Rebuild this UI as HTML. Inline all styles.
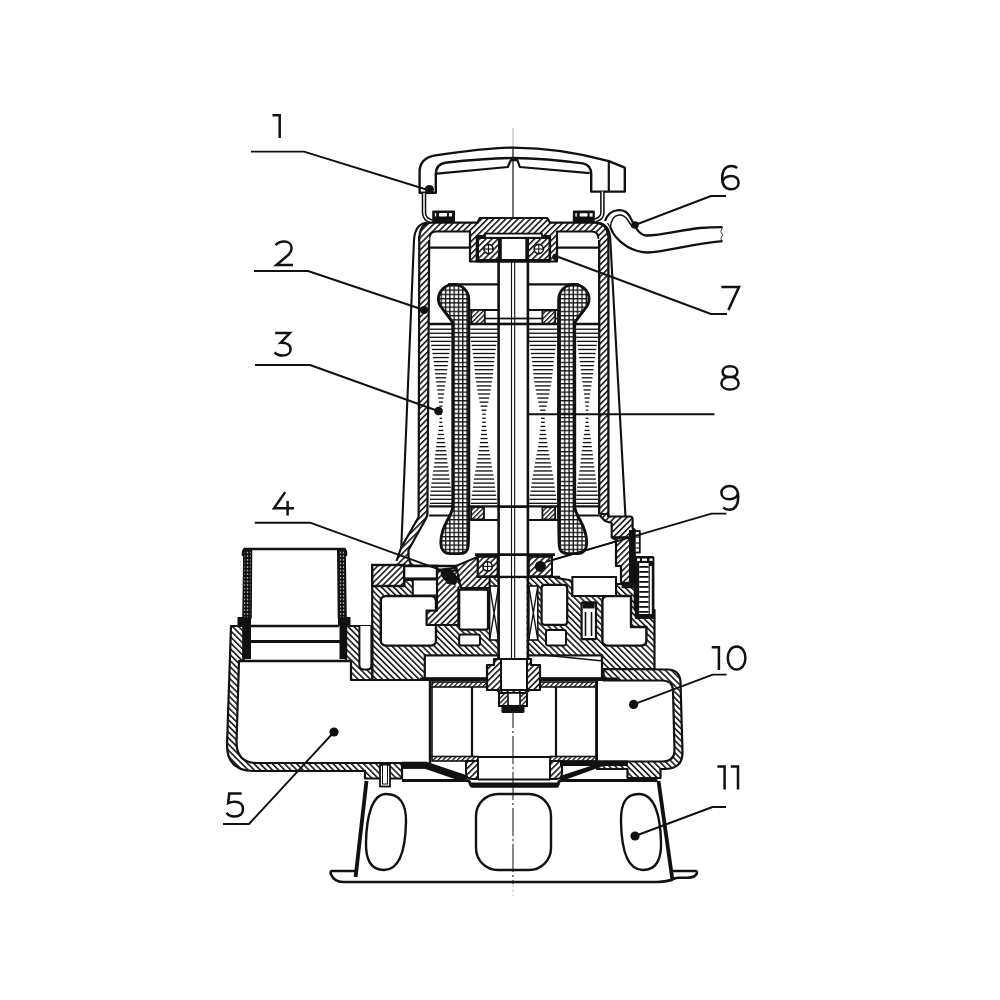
<!DOCTYPE html>
<html><head><meta charset="utf-8"><title>Pump</title>
<style>html,body{margin:0;padding:0;background:#fff;} svg{display:block;}</style></head>
<body><svg width="1000" height="1000" viewBox="0 0 1000 1000">
<rect width="1000" height="1000" fill="#fff"/>

<defs>
 <pattern id="hA" patternUnits="userSpaceOnUse" width="4.3" height="4.3" patternTransform="rotate(45)">
   <rect x="0" y="0" width="1.55" height="4.3" fill="#111"/>
 </pattern>
 <pattern id="hB" patternUnits="userSpaceOnUse" width="4.3" height="4.3" patternTransform="rotate(-45)">
   <rect x="0" y="0" width="1.55" height="4.3" fill="#111"/>
 </pattern>
 <pattern id="hAs" patternUnits="userSpaceOnUse" width="3.4" height="3.4" patternTransform="rotate(45)">
   <rect x="0" y="0" width="1.3" height="3.4" fill="#111"/>
 </pattern>
 <pattern id="xh" patternUnits="userSpaceOnUse" width="4.3" height="4.25" x="2.0" y="0.5">
   <rect x="0" y="0" width="4.3" height="1.3" fill="#111"/>
   <rect x="0" y="0" width="1.3" height="4.25" fill="#111"/>
 </pattern>
 <pattern id="dt" patternUnits="userSpaceOnUse" width="3" height="3.6">
   <rect width="3" height="3.6" fill="#111"/>
   <circle cx="1.5" cy="1.8" r="0.75" fill="#fff"/>
 </pattern>
</defs>

<line x1="513" y1="128" x2="513" y2="148" stroke="#999" stroke-width="0.8"/>
<line x1="513" y1="148" x2="513" y2="262" stroke="#111" stroke-width="1.2"/>
<line x1="513" y1="700" x2="513" y2="884" stroke="#111" stroke-width="1.0" stroke-dasharray="28,3,2,3"/>
<line x1="513" y1="884" x2="513" y2="896" stroke="#bbb" stroke-width="0.8" stroke-dasharray="3,2"/>
<path d="M419.6,192.8 L419.6,172 C419.6,162 425,157.5 434,155.6 C470,150.2 495,147.8 513,147.6 C545,147.8 580,153 608.8,161.2 L624.8,167.6 L624.8,191.6 L591.2,191.6 L591.2,174 C591.2,168 588.5,164.6 583,163.4 C560,160.2 536,158.2 513,158 C490,158.2 468,160.2 445,162.8 C439,164 435.8,168 435.8,174 L435.8,192.8 Z" fill="none" stroke="#111" stroke-width="2.4" stroke-linejoin="round" />
<path d="M437,173.6 L507.8,167 L510.8,160.2 L517.4,160.2 L519.8,167 L589.6,173.2" fill="none" stroke="#111" stroke-width="2.2" stroke-linejoin="round" />
<line x1="608.8" y1="161.2" x2="608.8" y2="191.6" stroke="#111" stroke-width="2.2"/>
<path d="M424,193 L424,212.5 Q424,219.5 432,221.5" fill="none" stroke="#111" stroke-width="4.6"/>
<path d="M424,193 L424,212.5 Q424,219.5 432,221.5" fill="none" stroke="#fff" stroke-width="1.5"/>
<path d="M602.4,191.6 L602.4,212.5 Q602.4,218.5 595,220.5" fill="none" stroke="#111" stroke-width="4.6"/>
<path d="M602.4,191.6 L602.4,212.5 Q602.4,218.5 595,220.5" fill="none" stroke="#fff" stroke-width="1.5"/>
<rect x="432.2" y="210.4" width="22.80000000000001" height="12.599999999999994" rx="1.2" fill="#111"/>
<rect x="434.8" y="213.0" width="1.4" height="3.4" fill="#fff"/>
<rect x="439.0" y="213.0" width="8" height="3.4" rx="1" fill="#fff"/>
<rect x="449.0" y="213.0" width="3" height="3.4" fill="#fff"/>
<rect x="572.8" y="210.6" width="22.0" height="12.400000000000006" rx="1.2" fill="#111"/>
<rect x="575.4" y="213.2" width="1.4" height="3.4" fill="#fff"/>
<rect x="579.5999999999999" y="213.2" width="8" height="3.4" rx="1" fill="#fff"/>
<rect x="589.5999999999999" y="213.2" width="3" height="3.4" fill="#fff"/>
<path d="M605,221 C607,215 612,210.5 618.5,210.2 C623,210 627,212 629.5,216 C631.5,219.5 633,223 635.5,227 C638,231.5 640.5,235 646,235.5 C660,236 680,230 700,228 C710,227.2 716,227.2 722.4,227.2" fill="none" stroke="#111" stroke-width="2.3" stroke-linejoin="round" />
<path d="M610.4,227.2 C611,221 613.5,216 618,215.2 C622,214.6 625.5,216.5 628,220.5 L632.5,227" fill="none" stroke="#111" stroke-width="1.5" stroke-linejoin="round" />
<path d="M610.4,227.2 C612,233 618,241 627,246.5 C634,250.5 640,252.5 648,252.5 C665,252 690,244 722.4,241.2" fill="none" stroke="#111" stroke-width="2.3" stroke-linejoin="round" />
<path d="M607.6,223 L613.2,232.8" fill="none" stroke="#111" stroke-width="1.3" stroke-linejoin="round" />
<path d="M722.4,227.2 L720.8,231.5 L722.6,235 L720.9,238.6 L722.4,241.2" fill="none" stroke="#111" stroke-width="0.8" stroke-linejoin="round" />
<path d="M419.3,240 Q419.3,222.7 432,222.7 L477.5,222.7 L479.8,218 L547.2,218 L550,222.7 L594,222.7 Q608,222.7 608,238 L598.4,238 Q598.4,231.5 591,231.5 L557,231.5 L557,261.5 L470,261.5 L470,231.5 L436,231.5 Q429.2,231.5 429.2,240 Z" fill="#fff"/><path d="M419.3,240 Q419.3,222.7 432,222.7 L477.5,222.7 L479.8,218 L547.2,218 L550,222.7 L594,222.7 Q608,222.7 608,238 L598.4,238 Q598.4,231.5 591,231.5 L557,231.5 L557,261.5 L470,261.5 L470,231.5 L436,231.5 Q429.2,231.5 429.2,240 Z" fill="url(#hA)" stroke="#111" stroke-width="2.2" stroke-linejoin="round" />
<path d="M476.8,236 L550,236 L550,261.5 L476.8,261.5 Z" fill="#fff" stroke="#111" stroke-width="2.2" stroke-linejoin="round" />
<rect x="485" y="233.6" width="57" height="4.2" rx="0" fill="#fff" stroke="#111" stroke-width="1.8"/>
<rect x="478" y="238" width="21" height="22" rx="0" fill="#fff"/><rect x="478" y="238" width="21" height="22" rx="0" fill="url(#hA)" stroke="#111" stroke-width="2.0"/>
<circle cx="488.5" cy="249" r="4.6" fill="#fff" stroke="#111" stroke-width="1.6"/>
<line x1="483.9" y1="249" x2="493.1" y2="249" stroke="#111" stroke-width="1.1"/>
<line x1="488.5" y1="244.4" x2="488.5" y2="253.6" stroke="#111" stroke-width="1.1"/>
<rect x="528" y="238" width="21.5" height="22" rx="0" fill="#fff"/><rect x="528" y="238" width="21.5" height="22" rx="0" fill="url(#hA)" stroke="#111" stroke-width="2.0"/>
<circle cx="538.75" cy="249" r="4.6" fill="#fff" stroke="#111" stroke-width="1.6"/>
<line x1="534.15" y1="249" x2="543.35" y2="249" stroke="#111" stroke-width="1.1"/>
<line x1="538.75" y1="244.4" x2="538.75" y2="253.6" stroke="#111" stroke-width="1.1"/>
<rect x="500.8" y="238" width="25.5" height="22" rx="0" fill="#fff" stroke="#111" stroke-width="2.0"/>
<path d="M401.2,549 L414,240 Q415,223.5 427,222.7" fill="none" stroke="#111" stroke-width="2.1" stroke-linejoin="round" />
<path d="M625.6,519 L610.2,238 Q609,224 598,222.7" fill="none" stroke="#111" stroke-width="2.1" stroke-linejoin="round" />
<path d="M419.3,236 L418.6,517 L401,548 L396.5,561 L396.5,565.5 L413,565.5 Q409,563 408.5,556 L408.5,550 L426,518.5 L427.4,515 L429.2,236 Z" fill="#fff"/>
<path d="M419.3,236 L418.6,517 L401,548 L396.5,561 L396.5,565.5 L413,565.5 Q409,563 408.5,556 L408.5,550 L426,518.5 L427.4,515 L429.2,236 Z" fill="url(#hA)"/>
<path d="M419.3,236 L418.6,517 L401,548 L396.5,561 M413,565.5 Q409,563 408.5,556 L408.5,550 L426,518.5 L427.4,515 L429.2,240" fill="none" stroke="#111" stroke-width="2.2" stroke-linejoin="round" />
<rect x="599.2" y="236" width="9.2" height="280" fill="#fff"/>
<rect x="599.2" y="236" width="9.2" height="280" fill="url(#hA)"/>
<path d="M599.2,240 L599.2,514 M608.4,236 L608.4,516" fill="none" stroke="#111" stroke-width="2.3" stroke-linejoin="round" />
<path d="M600.7,514 L600.7,516.5 L605,521 L611.7,523 L611.7,537.4 L616,540 L616,566 L621,566 L621,584 L634.8,584 L634.8,530 L632.6,528 L632.6,519 Q632.6,516.5 630,516.5 L608.2,516.5 L608.2,514 Z" fill="#fff"/><path d="M600.7,514 L600.7,516.5 L605,521 L611.7,523 L611.7,537.4 L616,540 L616,566 L621,566 L621,584 L634.8,584 L634.8,530 L632.6,528 L632.6,519 Q632.6,516.5 630,516.5 L608.2,516.5 L608.2,514 Z" fill="url(#hA)" stroke="#111" stroke-width="2.2" stroke-linejoin="round" />
<rect x="629" y="530" width="6" height="58" fill="#111"/>
<line x1="429.2" y1="247.6" x2="470" y2="247.6" stroke="#111" stroke-width="2.2"/>
<line x1="557" y1="247.6" x2="598.4" y2="247.6" stroke="#111" stroke-width="2.2"/>
<rect x="429.90" y="328.55" width="22.00" height="1.3" fill="#111"/>
<rect x="429.90" y="332.60" width="22.00" height="1.3" fill="#111"/>
<rect x="429.90" y="336.65" width="22.00" height="1.3" fill="#111"/>
<rect x="430.53" y="340.70" width="20.74" height="1.3" fill="#111"/>
<rect x="431.28" y="344.75" width="19.24" height="1.3" fill="#111"/>
<rect x="431.86" y="348.80" width="18.08" height="1.3" fill="#111"/>
<rect x="432.45" y="352.85" width="16.91" height="1.3" fill="#111"/>
<rect x="433.03" y="356.90" width="15.74" height="1.3" fill="#111"/>
<rect x="433.60" y="360.95" width="14.60" height="1.3" fill="#111"/>
<rect x="434.07" y="365.00" width="13.65" height="1.3" fill="#111"/>
<rect x="434.55" y="369.05" width="12.71" height="1.3" fill="#111"/>
<rect x="435.02" y="373.10" width="11.76" height="1.3" fill="#111"/>
<rect x="435.52" y="377.15" width="10.77" height="1.3" fill="#111"/>
<rect x="436.10" y="381.20" width="9.60" height="1.3" fill="#111"/>
<rect x="436.68" y="385.25" width="8.43" height="1.3" fill="#111"/>
<rect x="437.27" y="389.30" width="7.26" height="1.3" fill="#111"/>
<rect x="437.84" y="393.35" width="6.12" height="1.3" fill="#111"/>
<rect x="438.36" y="397.40" width="5.08" height="1.3" fill="#111"/>
<rect x="438.88" y="401.45" width="4.04" height="1.3" fill="#111"/>
<rect x="439.33" y="405.50" width="3.13" height="1.3" fill="#111"/>
<rect x="439.63" y="409.55" width="2.54" height="1.3" fill="#111"/>
<rect x="439.89" y="413.60" width="2.01" height="1.3" fill="#111"/>
<rect x="439.64" y="417.65" width="2.52" height="1.3" fill="#111"/>
<rect x="439.39" y="421.70" width="3.02" height="1.3" fill="#111"/>
<rect x="438.91" y="425.75" width="3.97" height="1.3" fill="#111"/>
<rect x="438.41" y="429.80" width="4.97" height="1.3" fill="#111"/>
<rect x="437.81" y="433.85" width="6.18" height="1.3" fill="#111"/>
<rect x="437.20" y="437.90" width="7.40" height="1.3" fill="#111"/>
<rect x="436.69" y="441.95" width="8.42" height="1.3" fill="#111"/>
<rect x="436.19" y="446.00" width="9.42" height="1.3" fill="#111"/>
<rect x="435.63" y="450.05" width="10.53" height="1.3" fill="#111"/>
<rect x="435.08" y="454.10" width="11.65" height="1.3" fill="#111"/>
<rect x="434.68" y="458.15" width="12.43" height="1.3" fill="#111"/>
<rect x="434.29" y="462.20" width="13.21" height="1.3" fill="#111"/>
<rect x="433.71" y="466.25" width="14.38" height="1.3" fill="#111"/>
<rect x="433.13" y="470.30" width="15.55" height="1.3" fill="#111"/>
<rect x="432.62" y="474.35" width="16.56" height="1.3" fill="#111"/>
<rect x="432.12" y="478.40" width="17.56" height="1.3" fill="#111"/>
<rect x="431.51" y="482.45" width="18.78" height="1.3" fill="#111"/>
<rect x="430.90" y="486.50" width="20.00" height="1.3" fill="#111"/>
<rect x="430.50" y="490.55" width="20.79" height="1.3" fill="#111"/>
<rect x="430.12" y="494.60" width="21.56" height="1.3" fill="#111"/>
<rect x="430.04" y="498.65" width="21.71" height="1.3" fill="#111"/>
<rect x="429.97" y="502.70" width="21.86" height="1.3" fill="#111"/>
<rect x="470.30" y="328.55" width="27.40" height="1.3" fill="#111"/>
<rect x="470.30" y="332.60" width="27.40" height="1.3" fill="#111"/>
<rect x="470.30" y="336.65" width="27.40" height="1.3" fill="#111"/>
<rect x="470.93" y="340.70" width="26.14" height="1.3" fill="#111"/>
<rect x="471.69" y="344.75" width="24.61" height="1.3" fill="#111"/>
<rect x="472.25" y="348.80" width="23.50" height="1.3" fill="#111"/>
<rect x="472.77" y="352.85" width="22.46" height="1.3" fill="#111"/>
<rect x="473.29" y="356.90" width="21.42" height="1.3" fill="#111"/>
<rect x="473.81" y="360.95" width="20.38" height="1.3" fill="#111"/>
<rect x="474.21" y="365.00" width="19.59" height="1.3" fill="#111"/>
<rect x="474.59" y="369.05" width="18.83" height="1.3" fill="#111"/>
<rect x="474.97" y="373.10" width="18.06" height="1.3" fill="#111"/>
<rect x="475.35" y="377.15" width="17.30" height="1.3" fill="#111"/>
<rect x="476.00" y="381.20" width="16.01" height="1.3" fill="#111"/>
<rect x="476.65" y="385.25" width="14.69" height="1.3" fill="#111"/>
<rect x="477.31" y="389.30" width="13.37" height="1.3" fill="#111"/>
<rect x="477.97" y="393.35" width="12.06" height="1.3" fill="#111"/>
<rect x="478.80" y="397.40" width="10.39" height="1.3" fill="#111"/>
<rect x="479.64" y="401.45" width="8.73" height="1.3" fill="#111"/>
<rect x="480.53" y="405.50" width="6.94" height="1.3" fill="#111"/>
<rect x="481.47" y="409.55" width="5.06" height="1.3" fill="#111"/>
<rect x="482.35" y="413.60" width="3.30" height="1.3" fill="#111"/>
<rect x="482.29" y="417.65" width="3.42" height="1.3" fill="#111"/>
<rect x="482.23" y="421.70" width="3.55" height="1.3" fill="#111"/>
<rect x="481.85" y="425.75" width="4.30" height="1.3" fill="#111"/>
<rect x="481.43" y="429.80" width="5.13" height="1.3" fill="#111"/>
<rect x="480.95" y="433.85" width="6.09" height="1.3" fill="#111"/>
<rect x="480.47" y="437.90" width="7.06" height="1.3" fill="#111"/>
<rect x="479.98" y="441.95" width="8.04" height="1.3" fill="#111"/>
<rect x="479.50" y="446.00" width="9.01" height="1.3" fill="#111"/>
<rect x="478.74" y="450.05" width="10.51" height="1.3" fill="#111"/>
<rect x="477.98" y="454.10" width="12.04" height="1.3" fill="#111"/>
<rect x="477.29" y="458.15" width="13.43" height="1.3" fill="#111"/>
<rect x="476.59" y="462.20" width="14.81" height="1.3" fill="#111"/>
<rect x="475.93" y="466.25" width="16.13" height="1.3" fill="#111"/>
<rect x="475.27" y="470.30" width="17.45" height="1.3" fill="#111"/>
<rect x="474.58" y="474.35" width="18.84" height="1.3" fill="#111"/>
<rect x="473.89" y="478.40" width="20.22" height="1.3" fill="#111"/>
<rect x="473.39" y="482.45" width="21.21" height="1.3" fill="#111"/>
<rect x="472.91" y="486.50" width="22.18" height="1.3" fill="#111"/>
<rect x="472.35" y="490.55" width="23.29" height="1.3" fill="#111"/>
<rect x="471.80" y="494.60" width="24.40" height="1.3" fill="#111"/>
<rect x="471.30" y="498.65" width="25.39" height="1.3" fill="#111"/>
<rect x="470.80" y="502.70" width="26.40" height="1.3" fill="#111"/>
<rect x="528.30" y="328.55" width="29.20" height="1.3" fill="#111"/>
<rect x="528.30" y="332.60" width="29.20" height="1.3" fill="#111"/>
<rect x="528.30" y="336.65" width="29.20" height="1.3" fill="#111"/>
<rect x="528.97" y="340.70" width="27.85" height="1.3" fill="#111"/>
<rect x="529.79" y="344.75" width="26.23" height="1.3" fill="#111"/>
<rect x="530.38" y="348.80" width="25.04" height="1.3" fill="#111"/>
<rect x="530.93" y="352.85" width="23.93" height="1.3" fill="#111"/>
<rect x="531.49" y="356.90" width="22.83" height="1.3" fill="#111"/>
<rect x="532.04" y="360.95" width="21.72" height="1.3" fill="#111"/>
<rect x="532.46" y="365.00" width="20.88" height="1.3" fill="#111"/>
<rect x="532.87" y="369.05" width="20.06" height="1.3" fill="#111"/>
<rect x="533.28" y="373.10" width="19.25" height="1.3" fill="#111"/>
<rect x="533.68" y="377.15" width="18.44" height="1.3" fill="#111"/>
<rect x="534.37" y="381.20" width="17.06" height="1.3" fill="#111"/>
<rect x="535.07" y="385.25" width="15.66" height="1.3" fill="#111"/>
<rect x="535.77" y="389.30" width="14.25" height="1.3" fill="#111"/>
<rect x="536.48" y="393.35" width="12.85" height="1.3" fill="#111"/>
<rect x="537.36" y="397.40" width="11.07" height="1.3" fill="#111"/>
<rect x="538.25" y="401.45" width="9.30" height="1.3" fill="#111"/>
<rect x="539.20" y="405.50" width="7.40" height="1.3" fill="#111"/>
<rect x="540.20" y="409.55" width="5.39" height="1.3" fill="#111"/>
<rect x="541.14" y="413.60" width="3.51" height="1.3" fill="#111"/>
<rect x="541.08" y="417.65" width="3.65" height="1.3" fill="#111"/>
<rect x="541.01" y="421.70" width="3.78" height="1.3" fill="#111"/>
<rect x="540.61" y="425.75" width="4.58" height="1.3" fill="#111"/>
<rect x="540.16" y="429.80" width="5.47" height="1.3" fill="#111"/>
<rect x="539.65" y="433.85" width="6.49" height="1.3" fill="#111"/>
<rect x="539.14" y="437.90" width="7.53" height="1.3" fill="#111"/>
<rect x="538.62" y="441.95" width="8.56" height="1.3" fill="#111"/>
<rect x="538.10" y="446.00" width="9.60" height="1.3" fill="#111"/>
<rect x="537.30" y="450.05" width="11.20" height="1.3" fill="#111"/>
<rect x="536.49" y="454.10" width="12.83" height="1.3" fill="#111"/>
<rect x="535.75" y="458.15" width="14.31" height="1.3" fill="#111"/>
<rect x="535.01" y="462.20" width="15.79" height="1.3" fill="#111"/>
<rect x="534.30" y="466.25" width="17.19" height="1.3" fill="#111"/>
<rect x="533.60" y="470.30" width="18.60" height="1.3" fill="#111"/>
<rect x="532.86" y="474.35" width="20.08" height="1.3" fill="#111"/>
<rect x="532.12" y="478.40" width="21.55" height="1.3" fill="#111"/>
<rect x="531.60" y="482.45" width="22.60" height="1.3" fill="#111"/>
<rect x="531.08" y="486.50" width="23.64" height="1.3" fill="#111"/>
<rect x="530.49" y="490.55" width="24.82" height="1.3" fill="#111"/>
<rect x="529.90" y="494.60" width="26.00" height="1.3" fill="#111"/>
<rect x="529.37" y="498.65" width="27.06" height="1.3" fill="#111"/>
<rect x="528.83" y="502.70" width="28.13" height="1.3" fill="#111"/>
<rect x="576.10" y="328.55" width="22.00" height="1.3" fill="#111"/>
<rect x="576.10" y="332.60" width="22.00" height="1.3" fill="#111"/>
<rect x="576.10" y="336.65" width="22.00" height="1.3" fill="#111"/>
<rect x="576.73" y="340.70" width="20.74" height="1.3" fill="#111"/>
<rect x="577.48" y="344.75" width="19.24" height="1.3" fill="#111"/>
<rect x="578.06" y="348.80" width="18.08" height="1.3" fill="#111"/>
<rect x="578.65" y="352.85" width="16.91" height="1.3" fill="#111"/>
<rect x="579.23" y="356.90" width="15.74" height="1.3" fill="#111"/>
<rect x="579.80" y="360.95" width="14.60" height="1.3" fill="#111"/>
<rect x="580.27" y="365.00" width="13.65" height="1.3" fill="#111"/>
<rect x="580.75" y="369.05" width="12.71" height="1.3" fill="#111"/>
<rect x="581.22" y="373.10" width="11.76" height="1.3" fill="#111"/>
<rect x="581.72" y="377.15" width="10.77" height="1.3" fill="#111"/>
<rect x="582.30" y="381.20" width="9.60" height="1.3" fill="#111"/>
<rect x="582.88" y="385.25" width="8.43" height="1.3" fill="#111"/>
<rect x="583.47" y="389.30" width="7.26" height="1.3" fill="#111"/>
<rect x="584.04" y="393.35" width="6.12" height="1.3" fill="#111"/>
<rect x="584.56" y="397.40" width="5.08" height="1.3" fill="#111"/>
<rect x="585.08" y="401.45" width="4.04" height="1.3" fill="#111"/>
<rect x="585.53" y="405.50" width="3.13" height="1.3" fill="#111"/>
<rect x="585.83" y="409.55" width="2.54" height="1.3" fill="#111"/>
<rect x="586.09" y="413.60" width="2.01" height="1.3" fill="#111"/>
<rect x="585.84" y="417.65" width="2.52" height="1.3" fill="#111"/>
<rect x="585.59" y="421.70" width="3.02" height="1.3" fill="#111"/>
<rect x="585.11" y="425.75" width="3.97" height="1.3" fill="#111"/>
<rect x="584.61" y="429.80" width="4.97" height="1.3" fill="#111"/>
<rect x="584.01" y="433.85" width="6.18" height="1.3" fill="#111"/>
<rect x="583.40" y="437.90" width="7.40" height="1.3" fill="#111"/>
<rect x="582.89" y="441.95" width="8.42" height="1.3" fill="#111"/>
<rect x="582.39" y="446.00" width="9.42" height="1.3" fill="#111"/>
<rect x="581.83" y="450.05" width="10.53" height="1.3" fill="#111"/>
<rect x="581.28" y="454.10" width="11.65" height="1.3" fill="#111"/>
<rect x="580.88" y="458.15" width="12.43" height="1.3" fill="#111"/>
<rect x="580.49" y="462.20" width="13.21" height="1.3" fill="#111"/>
<rect x="579.91" y="466.25" width="14.38" height="1.3" fill="#111"/>
<rect x="579.33" y="470.30" width="15.55" height="1.3" fill="#111"/>
<rect x="578.82" y="474.35" width="16.56" height="1.3" fill="#111"/>
<rect x="578.32" y="478.40" width="17.56" height="1.3" fill="#111"/>
<rect x="577.71" y="482.45" width="18.78" height="1.3" fill="#111"/>
<rect x="577.10" y="486.50" width="20.00" height="1.3" fill="#111"/>
<rect x="576.70" y="490.55" width="20.79" height="1.3" fill="#111"/>
<rect x="576.32" y="494.60" width="21.56" height="1.3" fill="#111"/>
<rect x="576.24" y="498.65" width="21.71" height="1.3" fill="#111"/>
<rect x="576.17" y="502.70" width="21.86" height="1.3" fill="#111"/>
<line x1="429.2" y1="324" x2="598.4" y2="324" stroke="#111" stroke-width="2.4"/>
<line x1="429.2" y1="506.4" x2="598.4" y2="506.4" stroke="#111" stroke-width="2.4"/>
<line x1="448" y1="284.4" x2="498.5" y2="284.4" stroke="#111" stroke-width="2.2"/>
<line x1="528" y1="284.4" x2="579" y2="284.4" stroke="#111" stroke-width="2.2"/>
<line x1="468.8" y1="310" x2="498.5" y2="310" stroke="#111" stroke-width="2.0"/>
<line x1="528" y1="310" x2="558.4" y2="310" stroke="#111" stroke-width="2.0"/>
<line x1="468.8" y1="318.5" x2="498.5" y2="318.5" stroke="#111" stroke-width="1.6"/>
<line x1="528" y1="318.5" x2="558.4" y2="318.5" stroke="#111" stroke-width="1.6"/>
<rect x="471.2" y="310" width="13.6" height="13.6" rx="0" fill="#fff"/><rect x="471.2" y="310" width="13.6" height="13.6" rx="0" fill="url(#hAs)" stroke="#111" stroke-width="1.8"/>
<rect x="542.4" y="310.6" width="12.8" height="13" rx="0" fill="#fff"/><rect x="542.4" y="310.6" width="12.8" height="13" rx="0" fill="url(#hAs)" stroke="#111" stroke-width="1.8"/>
<rect x="471.2" y="507.2" width="12.8" height="12.2" rx="0" fill="#fff"/><rect x="471.2" y="507.2" width="12.8" height="12.2" rx="0" fill="url(#hAs)" stroke="#111" stroke-width="1.8"/>
<rect x="542.4" y="507.2" width="12.8" height="12.2" rx="0" fill="#fff"/><rect x="542.4" y="507.2" width="12.8" height="12.2" rx="0" fill="url(#hAs)" stroke="#111" stroke-width="1.8"/>
<line x1="429.2" y1="515.5" x2="452" y2="515.5" stroke="#111" stroke-width="2.0"/>
<line x1="575" y1="515.5" x2="599.5" y2="515.5" stroke="#111" stroke-width="2.0"/>
<line x1="468.8" y1="520" x2="498.5" y2="520" stroke="#111" stroke-width="2.0"/>
<line x1="528" y1="520" x2="558.4" y2="520" stroke="#111" stroke-width="2.0"/>
<line x1="468.8" y1="310" x2="468.8" y2="521" stroke="#111" stroke-width="2.2"/>
<line x1="558.4" y1="310" x2="558.4" y2="521" stroke="#111" stroke-width="2.2"/>
<line x1="475" y1="554.6" x2="555" y2="554.6" stroke="#111" stroke-width="2.8"/>
<line x1="498.6" y1="260" x2="498.6" y2="692" stroke="#111" stroke-width="2.6"/>
<line x1="527.9" y1="260" x2="527.9" y2="692" stroke="#111" stroke-width="2.6"/>
<line x1="511.5" y1="262" x2="511.5" y2="692" stroke="#111" stroke-width="1.1"/>
<line x1="514.7" y1="262" x2="514.7" y2="692" stroke="#111" stroke-width="1.1"/>
<line x1="498.6" y1="318.5" x2="527.9" y2="318.5" stroke="#111" stroke-width="1.8"/>
<line x1="498.6" y1="323.8" x2="527.9" y2="323.8" stroke="#111" stroke-width="1.8"/>
<line x1="498.6" y1="507" x2="527.9" y2="507" stroke="#111" stroke-width="2.0"/>
<path d="M438.4,299.5 A15.2,15.1 0 0 1 468.8,299.5 L468.8,506 C468.8,520 468.6,540 468.2,546 C467.8,551 465,553.6 460,553.6 L450,553.6 C444,553.6 440.8,549 440.8,543 C440.8,535 443.5,527 447.5,520 C450.5,514.5 452.8,511 452.8,506 L452.8,322.8 C450,318 444,311 440.4,306 C439,303.5 438.4,301.5 438.4,299.5 Z" fill="#fff"/><path d="M438.4,299.5 A15.2,15.1 0 0 1 468.8,299.5 L468.8,506 C468.8,520 468.6,540 468.2,546 C467.8,551 465,553.6 460,553.6 L450,553.6 C444,553.6 440.8,549 440.8,543 C440.8,535 443.5,527 447.5,520 C450.5,514.5 452.8,511 452.8,506 L452.8,322.8 C450,318 444,311 440.4,306 C439,303.5 438.4,301.5 438.4,299.5 Z" fill="url(#xh)" stroke="#111" stroke-width="2.9" stroke-linejoin="round" />
<g transform="translate(1027.5,0) scale(-1,1)"><path d="M438.4,299.5 A15.2,15.1 0 0 1 468.8,299.5 L468.8,506 C468.8,520 468.6,540 468.2,546 C467.8,551 465,553.6 460,553.6 L450,553.6 C444,553.6 440.8,549 440.8,543 C440.8,535 443.5,527 447.5,520 C450.5,514.5 452.8,511 452.8,506 L452.8,322.8 C450,318 444,311 440.4,306 C439,303.5 438.4,301.5 438.4,299.5 Z" fill="#fff"/><path d="M438.4,299.5 A15.2,15.1 0 0 1 468.8,299.5 L468.8,506 C468.8,520 468.6,540 468.2,546 C467.8,551 465,553.6 460,553.6 L450,553.6 C444,553.6 440.8,549 440.8,543 C440.8,535 443.5,527 447.5,520 C450.5,514.5 452.8,511 452.8,506 L452.8,322.8 C450,318 444,311 440.4,306 C439,303.5 438.4,301.5 438.4,299.5 Z" fill="url(#xh)" stroke="#111" stroke-width="2.9" stroke-linejoin="round" /></g>
<rect x="477.6" y="556.8" width="20.0" height="19.6" rx="0" fill="#fff"/><rect x="477.6" y="556.8" width="20.0" height="19.6" rx="0" fill="url(#hA)" stroke="#111" stroke-width="2.0"/>
<circle cx="487.6" cy="566.4" r="4.6" fill="#fff" stroke="#111" stroke-width="1.6"/>
<line x1="483.0" y1="566.4" x2="492.20000000000005" y2="566.4" stroke="#111" stroke-width="1.1"/>
<line x1="487.6" y1="561.8" x2="487.6" y2="571" stroke="#111" stroke-width="1.1"/>
<rect x="528.8" y="556.8" width="23.200000000000045" height="19.6" rx="0" fill="#fff"/><rect x="528.8" y="556.8" width="23.200000000000045" height="19.6" rx="0" fill="url(#hA)" stroke="#111" stroke-width="2.0"/>
<circle cx="540.4" cy="566.4" r="4.6" fill="#fff" stroke="#111" stroke-width="1.6"/>
<line x1="535.8" y1="566.4" x2="545.0" y2="566.4" stroke="#111" stroke-width="1.1"/>
<line x1="540.4" y1="561.8" x2="540.4" y2="571" stroke="#111" stroke-width="1.1"/>
<circle cx="540.4" cy="566.4" r="5.2" fill="#111"/>
<line x1="470" y1="577" x2="560" y2="577" stroke="#111" stroke-width="2.6"/>
<path d="M372.2,586 L404.2,586 L404.2,580 L437,580 L437,570 L470,566 L470,577 L528,577 L553,577 C558,577 560,579.5 566,579.5 Q572.4,579.5 572.4,585 L572.4,596 L616,596 L616,584 L634.8,584 L634.8,610 L654.5,610 L654.5,669 L603.5,669 L603.5,680 L372.2,680 Z" fill="#fff"/><path d="M372.2,586 L404.2,586 L404.2,580 L437,580 L437,570 L470,566 L470,577 L528,577 L553,577 C558,577 560,579.5 566,579.5 Q572.4,579.5 572.4,585 L572.4,596 L616,596 L616,584 L634.8,584 L634.8,610 L654.5,610 L654.5,669 L603.5,669 L603.5,680 L372.2,680 Z" fill="url(#hB)" stroke="#111" stroke-width="2.2" stroke-linejoin="round" />
<path d="M346,626 L372.2,626 L372.2,680 L351,680 L351,661 L346,661 Z" fill="#fff"/><path d="M346,626 L372.2,626 L372.2,680 L351,680 L351,661 L346,661 Z" fill="url(#hB)" stroke="#111" stroke-width="2.2" stroke-linejoin="round" />
<path d="M359.4,626 L359.4,665 Q359.4,669.5 364,669.5 L367,669.5 Q371.4,669.5 371.4,665 L371.4,626" fill="#fff" stroke="#111" stroke-width="2.0" stroke-linejoin="round" />
<rect x="380.8" y="596" width="55.2" height="49.6" rx="5" fill="#fff" stroke="#111" stroke-width="2.4"/>
<rect x="412.8" y="579.5" width="24.2" height="16" rx="0" fill="#fff" stroke="#111" stroke-width="2.0"/>
<rect x="424.8" y="655.4" width="73.8" height="23" rx="0" fill="#fff" stroke="#111" stroke-width="2.2"/>
<rect x="459.2" y="589.6" width="28.8" height="40" rx="2" fill="#fff" stroke="#111" stroke-width="2.2"/>
<rect x="459.2" y="634.4" width="20.8" height="11.2" rx="2" fill="#fff" stroke="#111" stroke-width="2.0"/>
<rect x="489.6" y="586" width="9" height="54" rx="0" fill="#fff" stroke="#111" stroke-width="1.6"/>
<path d="M489.6,586 L498.6,640 M498.6,586 L489.6,640" fill="none" stroke="#111" stroke-width="1.4" stroke-linejoin="round" />
<rect x="528.8" y="586" width="9" height="54" rx="0" fill="#fff" stroke="#111" stroke-width="1.6"/>
<path d="M528.8,586 L537.8,640 M537.8,586 L528.8,640" fill="none" stroke="#111" stroke-width="1.4" stroke-linejoin="round" />
<rect x="541.6" y="584.8" width="25.6" height="40" rx="3" fill="#fff" stroke="#111" stroke-width="2.2"/>
<rect x="546" y="630" width="20" height="15.6" rx="2" fill="#fff" stroke="#111" stroke-width="2.0"/>
<path d="M602.4,601 Q602.4,596 607.4,596 L631,596 L631,627 L646.4,627 L646.4,640.6 Q646.4,645.6 641.4,645.6 L607.4,645.6 Q602.4,645.6 602.4,640.6 Z" fill="#fff" stroke="#111" stroke-width="2.4" stroke-linejoin="round" />
<rect x="572.4" y="577" width="43.6" height="19" rx="0" fill="#fff" stroke="#111" stroke-width="2.0"/>
<rect x="528" y="655.4" width="74" height="23" rx="0" fill="#fff" stroke="#111" stroke-width="2.2"/>
<line x1="538" y1="654.5" x2="603" y2="661" stroke="#111" stroke-width="1.4"/>
<rect x="581.6" y="602.4" width="14.4" height="36.8" rx="1.5" fill="#fff" stroke="#111" stroke-width="2.2"/>
<line x1="585.5" y1="612" x2="585.5" y2="636" stroke="#111" stroke-width="1.6"/>
<line x1="591.5" y1="612" x2="591.5" y2="636" stroke="#111" stroke-width="1.6"/>
<rect x="583" y="602.4" width="11.6" height="6" rx="0" fill="#111" stroke="#111" stroke-width="0.1"/>
<rect x="634.8" y="556" width="19.6" height="63" rx="1.5" fill="#111"/>
<rect x="639.2" y="563" width="9.4" height="51" fill="#fff"/>
<rect x="639.2" y="566" width="9.4" height="1.8" fill="#111"/>
<rect x="639.2" y="571" width="9.4" height="1.8" fill="#111"/>
<rect x="639.2" y="576" width="9.4" height="1.8" fill="#111"/>
<rect x="639.2" y="581" width="9.4" height="1.8" fill="#111"/>
<rect x="639.2" y="586" width="9.4" height="1.8" fill="#111"/>
<rect x="639.2" y="591" width="9.4" height="1.8" fill="#111"/>
<rect x="639.2" y="596" width="9.4" height="1.8" fill="#111"/>
<rect x="639.2" y="601" width="9.4" height="1.8" fill="#111"/>
<rect x="639.2" y="606" width="9.4" height="1.8" fill="#111"/>
<rect x="639.2" y="611" width="9.4" height="1.8" fill="#111"/>
<rect x="637" y="558.5" width="3" height="2.4" fill="#fff"/>
<rect x="642" y="558.5" width="5" height="2.4" fill="#fff"/>
<rect x="649.5" y="558.5" width="3" height="2.4" fill="#fff"/>
<rect x="649.8" y="566" width="2" height="48" fill="#fff"/>
<rect x="621.6" y="581.8" width="15" height="6.4" fill="#111"/>
<line x1="611.7" y1="537.5" x2="634.8" y2="537.5" stroke="#111" stroke-width="2.6"/>
<rect x="634.8" y="531" width="5" height="21.5" rx="0" fill="#fff" stroke="#111" stroke-width="1.8"/>
<line x1="635.5" y1="537" x2="639" y2="537" stroke="#111" stroke-width="1.2"/>
<line x1="635.5" y1="543" x2="639" y2="543" stroke="#111" stroke-width="1.2"/>
<line x1="635.5" y1="548" x2="639" y2="548" stroke="#111" stroke-width="1.2"/>
<rect x="372.2" y="565" width="32" height="21" rx="0" fill="#fff"/><rect x="372.2" y="565" width="32" height="21" rx="0" fill="url(#hA)" stroke="#111" stroke-width="2.4"/>
<rect x="404.2" y="565.8" width="32.8" height="12.7" rx="0" fill="#fff" stroke="#111" stroke-width="2.2"/>
<line x1="404" y1="566" x2="457" y2="566" stroke="#111" stroke-width="2.4"/>
<path d="M437,570.6 L458.4,570.6 L458.4,625 L426.6,625 L426.6,610.6 L437,610.6 Z" fill="#fff"/><path d="M437,570.6 L458.4,570.6 L458.4,625 L426.6,625 L426.6,610.6 L437,610.6 Z" fill="url(#hA)" stroke="#111" stroke-width="2.2" stroke-linejoin="round" />
<path d="M441,569.5 L450.5,569.5 L457.5,578 L455.5,584.5 L448,583.5 L441.5,575.5 Z" fill="#111" stroke="#111" stroke-width="1.2" stroke-linejoin="round" />
<path d="M457.4,582.6 L459.6,585 L457.4,587.4 L455.2,585 Z" fill="#fff"/>
<path d="M456,566 L477.6,556.8 L477.6,577 L489.6,577 L489.6,588 L461,588 Z" fill="#fff"/><path d="M456,566 L477.6,556.8 L477.6,577 L489.6,577 L489.6,588 L461,588 Z" fill="url(#hA)" stroke="#111" stroke-width="2.0" stroke-linejoin="round" />
<rect x="499.9" y="578.3" width="26.7" height="80" fill="#fff"/>
<line x1="498.6" y1="577" x2="498.6" y2="692" stroke="#111" stroke-width="2.6"/>
<line x1="527.9" y1="577" x2="527.9" y2="692" stroke="#111" stroke-width="2.6"/>
<line x1="511.5" y1="578" x2="511.5" y2="692" stroke="#111" stroke-width="1.1"/>
<line x1="514.7" y1="578" x2="514.7" y2="692" stroke="#111" stroke-width="1.1"/>
<path d="M231,626 L243.5,626 L243.5,661 L239,661 L236.5,742 Q236.5,763 257,763 L402,763 L402,778.5 L365,778.5 L365,771 L254,771 Q227,771 227,745 Z" fill="#fff"/><path d="M231,626 L243.5,626 L243.5,661 L239,661 L236.5,742 Q236.5,763 257,763 L402,763 L402,778.5 L365,778.5 L365,771 L254,771 Q227,771 227,745 Z" fill="url(#hB)" stroke="#111" stroke-width="2.2" stroke-linejoin="round" />
<path d="M603.5,669 L668,669.5 Q680,670 680.5,682 L682.5,752 Q683,769 664,769 L660.5,769 L660.5,778 L627.5,778 L627.5,769 L597,769 L597,761.5 L662,761.5 Q674.5,761.5 674.5,750 L673,690 Q672.5,680.5 662,680.5 L603.5,680.5 Z" fill="#fff"/><path d="M603.5,669 L668,669.5 Q680,670 680.5,682 L682.5,752 Q683,769 664,769 L660.5,769 L660.5,778 L627.5,778 L627.5,769 L597,769 L597,761.5 L662,761.5 Q674.5,761.5 674.5,750 L673,690 Q672.5,680.5 662,680.5 L603.5,680.5 Z" fill="url(#hB)" stroke="#111" stroke-width="2.2" stroke-linejoin="round" />
<line x1="596.8" y1="678" x2="596.8" y2="762" stroke="#111" stroke-width="2.4"/>
<line x1="430" y1="678" x2="430" y2="765" stroke="#111" stroke-width="2.4"/>
<line x1="239" y1="661" x2="351" y2="661" stroke="#111" stroke-width="2.4"/>
<rect x="380" y="765" width="10" height="21.5" rx="0" fill="#fff" stroke="#111" stroke-width="1.8"/>
<rect x="382.5" y="765" width="5" height="19" rx="0" fill="#fff" stroke="#111" stroke-width="1.0"/>
<rect x="237.5" y="617" width="13.5" height="9" fill="#111"/>
<rect x="338" y="617" width="12.5" height="9" fill="#111"/>
<path d="M244,549 L243,618 L251,618 L251.5,549 Z" fill="#fff"/><path d="M244,549 L243,618 L251,618 L251.5,549 Z" fill="url(#dt)" stroke="#111" stroke-width="1.6" stroke-linejoin="round" />
<path d="M337.8,549 L338.5,618 L346,618 L345,549 Z" fill="#fff"/><path d="M337.8,549 L338.5,618 L346,618 L345,549 Z" fill="url(#dt)" stroke="#111" stroke-width="1.6" stroke-linejoin="round" />
<path d="M244,549 L345,549" fill="none" stroke="#111" stroke-width="2.6" stroke-linejoin="round" />
<path d="M244,549 Q242,552 243,556 M345,549 Q347,552 346,556" fill="none" stroke="#111" stroke-width="2.0" stroke-linejoin="round" />
<rect x="243.5" y="626" width="7.5" height="33" fill="#111"/>
<rect x="339.5" y="626" width="7" height="33" fill="#111"/>
<line x1="251" y1="626" x2="339" y2="626" stroke="#111" stroke-width="2.4"/>
<line x1="247" y1="641.5" x2="343" y2="641.5" stroke="#111" stroke-width="3.0"/>
<path d="M243.5,626 L243.5,661 M346,626 L346,661" fill="none" stroke="#111" stroke-width="2.2" stroke-linejoin="round" />
<line x1="420" y1="678.8" x2="489" y2="678.8" stroke="#111" stroke-width="2.6"/>
<line x1="540" y1="678.8" x2="620" y2="678.8" stroke="#111" stroke-width="2.6"/>
<rect x="432" y="682" width="56" height="5" rx="0" fill="#fff"/><rect x="432" y="682" width="56" height="5" rx="0" fill="url(#hAs)" stroke="#111" stroke-width="1.6"/>
<rect x="540" y="682" width="56" height="5" rx="0" fill="#fff"/><rect x="540" y="682" width="56" height="5" rx="0" fill="url(#hAs)" stroke="#111" stroke-width="1.6"/>
<path d="M494,659 L531,659 L531,665 L540,665 L540,690 L527,690 L527,693 L499,693 L499,690 L487,690 L487,665 L494,665 Z" fill="#fff"/><path d="M494,659 L531,659 L531,665 L540,665 L540,690 L527,690 L527,693 L499,693 L499,690 L487,690 L487,665 L494,665 Z" fill="url(#hA)" stroke="#111" stroke-width="2.2" stroke-linejoin="round" />
<rect x="501" y="659" width="26" height="31" rx="0" fill="#fff" stroke="#111" stroke-width="2.0"/>
<rect x="499" y="693" width="28" height="13" rx="0" fill="#fff"/><rect x="499" y="693" width="28" height="13" rx="0" fill="url(#hAs)" stroke="#111" stroke-width="2.0"/>
<rect x="508" y="693" width="12" height="13" rx="0" fill="#fff" stroke="#111" stroke-width="1.6"/>
<rect x="501.5" y="705" width="23" height="8" rx="1.5" fill="#111"/>
<line x1="472" y1="687" x2="472" y2="757" stroke="#111" stroke-width="2.2"/>
<line x1="556" y1="687" x2="556" y2="757" stroke="#111" stroke-width="2.2"/>
<line x1="432" y1="687" x2="432" y2="757" stroke="#111" stroke-width="1.6"/>
<line x1="596" y1="687" x2="596" y2="757" stroke="#111" stroke-width="1.6"/>
<rect x="432" y="756.5" width="46" height="4.5" rx="0" fill="#fff"/><rect x="432" y="756.5" width="46" height="4.5" rx="0" fill="url(#hAs)" stroke="#111" stroke-width="1.6"/>
<rect x="550" y="756.5" width="46" height="4.5" rx="0" fill="#fff"/><rect x="550" y="756.5" width="46" height="4.5" rx="0" fill="url(#hAs)" stroke="#111" stroke-width="1.6"/>
<path d="M466,761 L478,761 L478,779 L472,779 Q466,779 466,773 Z" fill="#fff"/><path d="M466,761 L478,761 L478,779 L472,779 Q466,779 466,773 Z" fill="url(#hA)" stroke="#111" stroke-width="2.0" stroke-linejoin="round" />
<path d="M550,761 L562,761 L562,773 Q562,779 556,779 L550,779 Z" fill="#fff"/><path d="M550,761 L562,761 L562,773 Q562,779 556,779 L550,779 Z" fill="url(#hA)" stroke="#111" stroke-width="2.0" stroke-linejoin="round" />
<line x1="478" y1="757" x2="550" y2="757" stroke="#111" stroke-width="2.2"/>
<rect x="402" y="761.7" width="25.4" height="7.2" fill="#111"/>
<path d="M427.4,762 L466,775 L467.5,779.5 L456,779.5 L425.6,769 Z" fill="#111"/>
<rect x="560" y="760.5" width="68" height="5.5" fill="#111"/>
<path d="M598,763.5 L602,766.5 L566,779.5 L560,779.5 L560,776 Z" fill="#111"/>
<line x1="478" y1="779.5" x2="550" y2="779.5" stroke="#111" stroke-width="2.2"/>
<path d="M402,780.6 L466,780.6 Q469.5,780.6 470,783 L470.5,785 L558,785 L558.5,783 Q559,780.6 562,780.6 L657.5,780.6" fill="none" stroke="#111" stroke-width="3.0" stroke-linejoin="round" />
<rect x="470" y="782.4" width="89" height="5.4" rx="2" fill="#111"/>
<path d="M366.5,781 L355.6,877" fill="none" stroke="#111" stroke-width="3.8" stroke-linejoin="round" />
<path d="M658.5,781 L672.3,879" fill="none" stroke="#111" stroke-width="3.8" stroke-linejoin="round" />
<path d="M356,871 L331.5,871 Q330,871.5 331,874.5 Q334.5,882 343,882 L658,882 Q667,881.5 673,879.5" fill="none" stroke="#111" stroke-width="2.6" stroke-linejoin="round" />
<path d="M672.5,871 L695.8,871 Q697.6,871.8 696.6,874 Q694.5,877.6 688,877.7 L678,877.8 Q674.5,878 672.6,879.5" fill="none" stroke="#111" stroke-width="2.6" stroke-linejoin="round" />
<path d="M386,794 C399,794 406.5,803 406,822 C405.5,846 401,870 384,870 C371,870 365.5,860 366,842 C366.5,817 372,794 386,794 Z" fill="none" stroke="#111" stroke-width="2.4" stroke-linejoin="round" />
<rect x="476" y="794" width="75" height="76" rx="22" fill="none" stroke="#111" stroke-width="2.4"/>
<path d="M639,794 C626,794 620.5,803 621,822 C621.5,846 626,870 643,870 C656,870 661.5,860 661,842 C660.5,817 655,794 639,794 Z" fill="none" stroke="#111" stroke-width="2.4" stroke-linejoin="round" />
<path d="M0,1.2 L7.2,1.2 L7.2,24" transform="translate(272.5,114.0) scale(1.000)" fill="none" stroke="#111" stroke-width="2.50" stroke-linejoin="miter" stroke-linecap="butt"/>
<path d="M0.6,3.8 C3,1.2 6,0.2 9,0.2 C13.5,0.2 16.6,2.8 16.6,6.8 C16.6,9.6 15.4,11.4 13.4,13.4 L1.4,23.6 L18,23.6" transform="translate(275.0,241.4) scale(1.000)" fill="none" stroke="#111" stroke-width="2.50" stroke-linejoin="miter" stroke-linecap="butt"/>
<path d="M1.2,1 L15.8,1 L6.6,10.8 C12.8,10.4 16.6,13 16.6,17.2 C16.6,21 13.4,23.6 8.8,23.6 C5.2,23.6 2.4,22.4 0.6,20.4" transform="translate(274.0,332.0) scale(1.000)" fill="none" stroke="#111" stroke-width="2.50" stroke-linejoin="miter" stroke-linecap="butt"/>
<path d="M12.2,0.6 L1,16.8 L21,16.8 M14.6,9.6 L14.6,24" transform="translate(273.0,491.5) scale(1.000)" fill="none" stroke="#111" stroke-width="2.50" stroke-linejoin="miter" stroke-linecap="butt"/>
<path d="M15.6,1 L3.2,1 L2.2,10.6 C4.2,9.6 6.4,9.2 8.8,9.2 C14,9.2 17,12.2 17,16.6 C17,21.2 13.6,24 8.8,24 C5,24 2.2,22.6 0.6,20.2" transform="translate(226.0,792.5) scale(1.000)" fill="none" stroke="#111" stroke-width="2.50" stroke-linejoin="miter" stroke-linecap="butt"/>
<path d="M16.2,2.4 C14.6,1 12.6,0.3 10.2,0.3 C4.6,0.3 1.2,4.6 1.2,12.2 C1.2,19.6 4.4,23.6 9.8,23.6 C14.6,23.6 17.6,20.8 17.6,16.8 C17.6,12.8 14.4,10.4 10,10.4 C5.4,10.4 1.6,13 1.6,16.6" transform="translate(721.0,165.6) scale(1.000)" fill="none" stroke="#111" stroke-width="2.50" stroke-linejoin="miter" stroke-linecap="butt"/>
<path d="M0.4,1 L18,1 L7.4,24" transform="translate(721.0,286.0) scale(1.000)" fill="none" stroke="#111" stroke-width="2.50" stroke-linejoin="miter" stroke-linecap="butt"/>
<path d="M9.6,11.2 C5,11.2 2.2,9.2 2.2,5.9 C2.2,2.6 5.2,0.4 9.6,0.4 C14,0.4 17,2.6 17,5.9 C17,9.2 14.2,11.2 9.6,11.2 C4.4,11.2 1,13.6 1,17.4 C1,21.3 4.6,23.8 9.6,23.8 C14.6,23.8 18.2,21.3 18.2,17.4 C18.2,13.6 14.8,11.2 9.6,11.2 Z" transform="translate(720.4,365.8) scale(1.000)" fill="none" stroke="#111" stroke-width="2.50" stroke-linejoin="miter" stroke-linecap="butt"/>
<path d="M2.6,21.8 C4.2,23.2 6.2,23.9 8.6,23.9 C14.2,23.9 17.6,19.6 17.6,11 C17.6,4 14.4,0.3 9,0.3 C4.2,0.3 0.8,3 0.8,6.9 C0.8,10.8 4.2,13.4 8.8,13.4 C13.4,13.4 17,10.8 17.4,6.9" transform="translate(720.6,485.8) scale(1.000)" fill="none" stroke="#111" stroke-width="2.50" stroke-linejoin="miter" stroke-linecap="butt"/>
<path d="M0,1.2 L7.2,1.2 L7.2,24" transform="translate(711.7,646.0) scale(1.000)" fill="none" stroke="#111" stroke-width="2.50" stroke-linejoin="miter" stroke-linecap="butt"/>
<path d="M9.6,0.6 C14.8,0.6 18.4,5.2 18.4,12 C18.4,18.8 14.8,23.4 9.6,23.4 C4.4,23.4 0.8,18.8 0.8,12 C0.8,5.2 4.4,0.6 9.6,0.6 Z" transform="translate(727.0,646.0) scale(1.000)" fill="none" stroke="#111" stroke-width="2.50" stroke-linejoin="miter" stroke-linecap="butt"/>
<path d="M0,1.2 L7.2,1.2 L7.2,24" transform="translate(717.4,765.4) scale(1.000)" fill="none" stroke="#111" stroke-width="2.50" stroke-linejoin="miter" stroke-linecap="butt"/>
<path d="M0,1.2 L7.2,1.2 L7.2,24" transform="translate(730.8,765.4) scale(1.000)" fill="none" stroke="#111" stroke-width="2.50" stroke-linejoin="miter" stroke-linecap="butt"/>
<path d="M251,151.6 L304,151.6 L428,190" fill="none" stroke="#111" stroke-width="1.9" stroke-linejoin="round" />
<path d="M254,271 L308,271 L424,310" fill="none" stroke="#111" stroke-width="1.9" stroke-linejoin="round" />
<path d="M255,365 L310,365 L438,411" fill="none" stroke="#111" stroke-width="1.9" stroke-linejoin="round" />
<path d="M254.8,522.7 L310,522.7 L447,572.4" fill="none" stroke="#111" stroke-width="1.9" stroke-linejoin="round" />
<path d="M223,824 L249,824 L334,732" fill="none" stroke="#111" stroke-width="1.9" stroke-linejoin="round" />
<path d="M726,196 L711,196 L635,225" fill="none" stroke="#111" stroke-width="1.9" stroke-linejoin="round" />
<path d="M727,314 L711,314 L558.5,257" fill="none" stroke="#111" stroke-width="1.9" stroke-linejoin="round" />
<path d="M714.5,414.2 L528,414.2" fill="none" stroke="#111" stroke-width="1.9" stroke-linejoin="round" />
<path d="M726.4,513.6 L711.5,513.6 L547,561.6" fill="none" stroke="#111" stroke-width="1.9" stroke-linejoin="round" />
<path d="M619,540.5 L554,559.5" fill="none" stroke="#111" stroke-width="1.4" stroke-linejoin="round" />
<path d="M726.6,674.6 L712.8,674.6 L633.6,704.4" fill="none" stroke="#111" stroke-width="1.9" stroke-linejoin="round" />
<path d="M726,807 L712.5,807 L635,836" fill="none" stroke="#111" stroke-width="1.9" stroke-linejoin="round" />
<circle cx="555.5" cy="257" r="3.2" fill="#111"/>
<circle cx="429.4" cy="189.6" r="4.6" fill="#111"/>
<circle cx="424" cy="310" r="4.0" fill="#111"/>
<circle cx="438.5" cy="411" r="4.3" fill="#111"/>
<circle cx="334" cy="732" r="4.6" fill="#111"/>
<circle cx="635" cy="225" r="3.8" fill="#111"/>
<circle cx="633.6" cy="704.4" r="4.6" fill="#111"/>
<circle cx="635" cy="836" r="4.6" fill="#111"/>
</svg></body></html>
